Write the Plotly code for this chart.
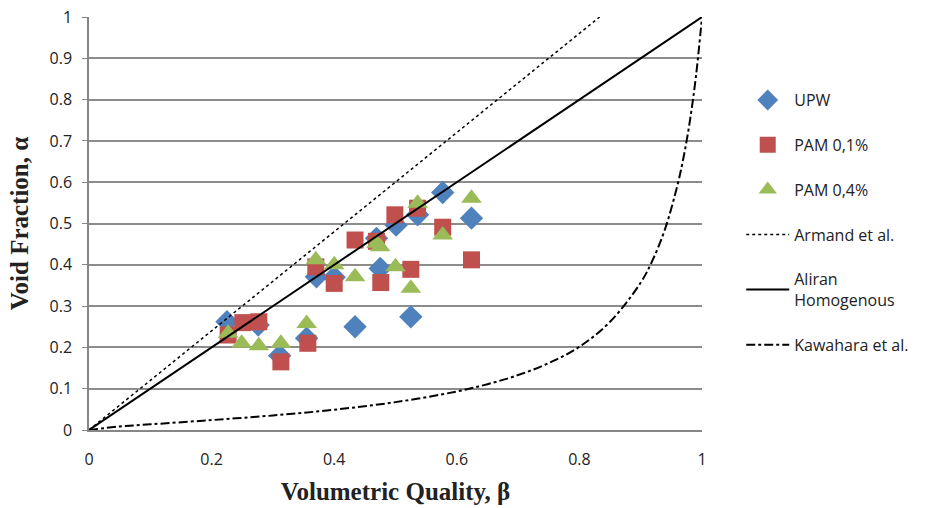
import plotly.graph_objects as go

# UPW
upw_beta = [0.225, 0.276, 0.311, 0.355, 0.371, 0.400, 0.434, 0.469, 0.475, 0.501, 0.525, 0.536, 0.577, 0.624]
upw_alpha = [0.262, 0.254, 0.180, 0.222, 0.371, 0.370, 0.250, 0.464, 0.391, 0.496, 0.274, 0.521, 0.575, 0.513]
# PAM 0,1%
p1_beta = [0.227, 0.251, 0.277, 0.313, 0.357, 0.370, 0.400, 0.434, 0.469, 0.476, 0.499, 0.525, 0.536, 0.577, 0.624]
p1_alpha = [0.230, 0.260, 0.262, 0.165, 0.210, 0.395, 0.355, 0.460, 0.457, 0.357, 0.521, 0.389, 0.537, 0.491, 0.412]
# PAM 0,4%
p4_beta = [0.227, 0.249, 0.277, 0.313, 0.355, 0.370, 0.400, 0.434, 0.469, 0.475, 0.500, 0.525, 0.536, 0.577, 0.624]
p4_alpha = [0.234, 0.210, 0.204, 0.210, 0.258, 0.412, 0.400, 0.371, 0.452, 0.444, 0.395, 0.343, 0.549, 0.472, 0.561]
# Armand et al.
arm_beta = [0.0, 0.833]
arm_alpha = [0.0, 1.0]
# Homogeneous
hom_beta = [0.0, 1.0]
hom_alpha = [0.0, 1.0]
# Kawahara et al.
kaw_beta = [0.0, 0.05, 0.1, 0.2, 0.3, 0.4, 0.5, 0.6, 0.65, 0.7, 0.75, 0.8, 0.85, 0.9, 0.92, 0.94, 0.96, 0.97, 0.98, 0.99, 1.0]
kaw_alpha = [0.0, 0.0086, 0.0137, 0.024, 0.0351, 0.0491, 0.0675, 0.0933, 0.111, 0.133, 0.162, 0.2015, 0.262, 0.357, 0.413, 0.488, 0.593, 0.661, 0.746, 0.855, 1.0]

y_ticks = [0, 0.1, 0.2, 0.3, 0.4, 0.5, 0.6, 0.7, 0.8, 0.9, 1]
y_labels = ["0", "0.1", "0.2", "0.3", "0.4", "0.5", "0.6", "0.7", "0.8", "0.9", "1"]
x_ticks = [0, 0.2, 0.4, 0.6, 0.8, 1]
x_labels = ["0", "0.2", "0.4", "0.6", "0.8", "1"]

fig = go.Figure()
fig.add_trace(go.Scatter(x=upw_beta, y=upw_alpha, mode="markers", name="UPW", legendgroup="a",
                         marker=dict(symbol="diamond", size=18, color="#4F81BD")))
fig.add_trace(go.Scatter(x=p1_beta, y=p1_alpha, mode="markers", name="PAM 0,1%", legendgroup="b",
                         marker=dict(symbol="square", size=17, color="#C0504D")))
fig.add_trace(go.Scatter(x=p4_beta, y=p4_alpha, mode="markers", name="PAM 0,4%", legendgroup="c",
                         marker=dict(symbol="triangle-up", size=18, color="#9BBB59")))
fig.add_trace(go.Scatter(x=arm_beta, y=arm_alpha, mode="lines", name="Armand et al.", legendgroup="d",
                         line=dict(color="black", width=1.5, dash="dot")))
fig.add_trace(go.Scatter(x=hom_beta, y=hom_alpha, mode="lines", name="Aliran<br>Homogenous", legendgroup="e",
                         line=dict(color="black", width=2)))
fig.add_trace(go.Scatter(x=kaw_beta, y=kaw_alpha, mode="lines", name="Kawahara et al.", legendgroup="f",
                         line=dict(color="black", width=2, dash="dashdot"), line_shape="spline"))

title_font = dict(family="Liberation Serif, Times New Roman, serif", size=25, color="#222")
fig.update_layout(
    width=931, height=508,
    margin=dict(l=89, r=229, t=17, b=78),
    plot_bgcolor="white", paper_bgcolor="white",
    font=dict(family="Open Sans, Liberation Sans, sans-serif", size=16, color="#222"),
    legend=dict(x=1.064, y=0.84, xanchor="left", yanchor="top",
                tracegroupgap=21, itemwidth=43,
                font=dict(size=16, color="#222"), bgcolor="rgba(0,0,0,0)"),
    xaxis=dict(range=[0, 1], tickvals=x_ticks, ticktext=x_labels, showgrid=False,
               showline=True, linecolor="#868686", linewidth=1.5, zeroline=False,
               ticks="", ticklen=0, automargin=False, ticklabelstandoff=14,
               title=dict(text="<b>Volumetric Quality, β</b>", font=title_font, standoff=14)),
    yaxis=dict(range=[0, 1], tickvals=y_ticks, ticktext=y_labels, showgrid=True,
               gridcolor="#8c8c8c", gridwidth=1.8, showline=True, linecolor="#868686", linewidth=1.5,
               zeroline=False, ticks="outside", ticklen=5, tickcolor="#868686", automargin=False,
               ticklabelstandoff=7, ticklabeloverflow="allow",
               title=dict(text="<b>Void Fraction, α</b>", font=title_font, standoff=14)),
)
fig.write_html("out.html", config={"displayModeBar": False},
               post_script="document.body.style.margin='0';")
